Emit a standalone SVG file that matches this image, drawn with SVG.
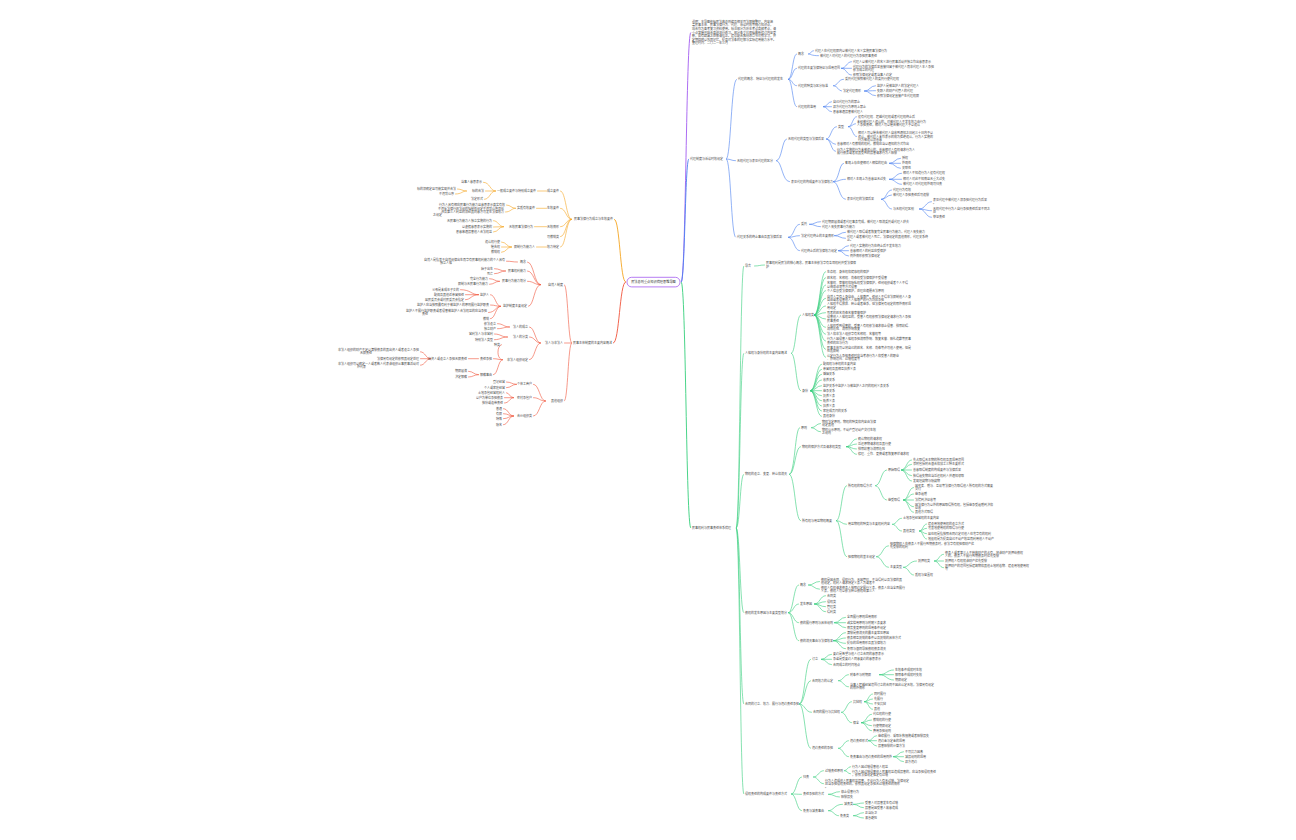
<svg xmlns="http://www.w3.org/2000/svg" width="1296" height="840" viewBox="0 0 1296 840">
<style>
text{font-family:"Noto Sans CJK SC","Noto Sans",sans-serif;font-size:3px;fill:#4a4a4a}
.e{text-anchor:end}
.c{fill:none;stroke-width:0.6;stroke-linecap:round}
.o{stroke:#f5a623}.r{stroke:#f0553c}.b{stroke:#4a80f0}.g{stroke:#35cf7c}.p{stroke:#a35cf0}
.m{stroke-width:0.9}
.root{fill:#fff;stroke:#a35cf0;stroke-width:0.8}
.rt{font-size:3.2px;fill:#333;text-anchor:middle}
</style>
<rect width="1296" height="840" fill="#fff"/>
<g id="connectors">
<path class="c p m" d="M681.5,282 C686,282 686,32.5 690.5,32.5"/>
<path class="c b m" d="M681.5,282 C685,282 685,159 688.5,159"/>
<path class="c g m" d="M681.5,282 C686,282 686,528 690.5,528"/>
<path class="c o m" d="M625.5,282 C620,282 620,219.3 614.5,219.3"/>
<path class="c r m" d="M625.5,282 C619.5,282 619.5,343 613.5,343"/>
<path class="c o" d="M571.5,219.3 C566,219.3 566,191 560.5,191 M571.5,219.3 C566,219.3 566,208.3 560.5,208.3 M571.5,219.3 C566,219.3 566,226.7 560.5,226.7 M571.5,219.3 C566,219.3 566,236.7 560.5,236.7 M571.5,219.3 C566,219.3 566,247 560.5,247
M546.5,191 L537.5,191
M495.5,191 C490,191 490,182.3 483.5,182.3 M495.5,191 L485.5,191 M495.5,191 C490,191 490,199.3 484.5,199.3
M466.5,191 C462,191 462,189 457.5,189 M466.5,191 C462,191 462,194 455.5,194
M546.5,208.3 L536.5,208.3
M515.5,208.3 C511,208.3 511,205 506.5,205 M515.5,208.3 C511,208.3 511,212 505.5,212
M546.5,226.7 L534.5,226.7
M503.5,226.7 C498.5,226.7 498.5,220.7 493.5,220.7 M503.5,226.7 L493.5,227 M503.5,226.7 C498.5,226.7 498.5,232 493.5,232
M546.5,247 L536.5,247
M511.5,247 C506.5,247 506.5,242 501.5,242 M511.5,247 L501.5,247 M511.5,247 C506.5,247 506.5,252.3 501.5,252.3"/>
<path class="c r" d="M571.5,343 C568,343 568,284.7 564.5,284.7 M571.5,343 L564.5,343 M571.5,343 C568,343 568,401 564.5,401
M540.5,284.7 C534,284.7 534,262 527.5,262 M540.5,284.7 C534,284.7 534,271 527.5,271 M540.5,284.7 C534,284.7 534,281.3 527.5,281.3 M540.5,284.7 C534,284.7 534,306.3 528.5,306.3
M517.5,262 C512,262 512,261.2 506.5,261.2
M505.5,271 C500,271 500,268.7 494.5,268.7 M505.5,271 C500,271 500,273.7 494.5,273.7
M499.5,281.3 C494.5,281.3 494.5,278.7 489.5,278.7 M499.5,281.3 C494.5,281.3 494.5,284.3 489.5,284.3
M500.5,306.3 C495.5,306.3 495.5,294.7 490.5,294.7 M500.5,306.3 C495.5,306.3 495.5,305 490.5,305 M500.5,306.3 C495.5,306.3 495.5,312.5 488.5,312.5 M500.5,306.3 C495.5,306.3 495.5,318.7 490.5,318.7
M478.5,294.7 C471,294.7 471,289.7 460.5,289.7 M478.5,294.7 L465.5,294.7 M478.5,294.7 C471,294.7 471,299.7 465.5,299.7
M540.5,343 C535,343 535,327 529.5,327 M540.5,343 C535,343 535,337 529.5,337 M540.5,343 C535,343 535,359.7 529.5,359.7
M509.5,327 C503.5,327 503.5,323.7 497.5,323.7 M509.5,327 C503.5,327 503.5,328.7 497.5,328.7
M507.5,337 C501,337 501,334 494.5,334 M507.5,337 C501,337 501,339.7 494.5,339.7
M502.5,359.7 C496,359.7 497,344.7 501.5,344.7 M502.5,359.7 C498,359.7 498,358.7 493.5,358.7 M502.5,359.7 C498,359.7 498,374.7 493.5,374.7
M478.5,358.7 L468.5,358.7
M430.5,358.7 C425.5,358.7 425.5,351.8 420.5,351.8 M430.5,358.7 L420.5,358.7 M430.5,358.7 C425.5,358.7 425.5,365.2 420.5,365.2
M478.5,374.7 C473.5,374.7 473.5,371.3 468.5,371.3 M478.5,374.7 C473.5,374.7 473.5,377 468.5,377
M545.5,401 C539.5,401 539.5,384.3 533.5,384.3 M545.5,401 C539.5,401 539.5,397.7 533.5,397.7 M545.5,401 C539.5,401 539.5,416 533.5,416
M516.5,384.3 C511.5,384.3 511.5,382 506.5,382 M516.5,384.3 C511.5,384.3 511.5,387.7 506.5,387.7
M513.5,397.7 C509.5,397.7 509.5,392.7 506.5,392.7 M513.5,397.7 L504.5,397.7 M513.5,397.7 C509.5,397.7 509.5,403 504.5,403
M513.5,416 C508.5,416 508.5,408.7 503.5,408.7 M513.5,416 C508.5,416 508.5,413.7 503.5,413.7 M513.5,416 C508.5,416 508.5,418.7 503.5,418.7 M513.5,416 C508.5,416 508.5,424.7 503.5,424.7"/>
<path class="c b" d="M726.5,159 C731,159 731,79.3 736.5,79.3 M726.5,159 C731,159 731,160.7 735.5,160.7 M726.5,159 C731,159 731,237.3 735.5,237.3
M788.5,79.3 C792.5,79.3 792.5,54 796.5,54 M788.5,79.3 C792.5,79.3 792.5,68.3 796.5,68.3 M788.5,79.3 C792.5,79.3 792.5,85.7 796.5,85.7 M788.5,79.3 C792.5,79.3 792.5,106.7 796.5,106.7
M808.5,54 C811,54 811,50.7 813.5,50.7 M808.5,54 C811,54 811,55.7 818.5,55.7
M841.5,68.3 C846.5,68.3 846.5,61.7 851.5,61.7 M841.5,68.3 L851.5,68.3 M841.5,68.3 C846.5,68.3 846.5,75 851.5,75
M833.5,85.7 C838,85.7 838,79.3 843.5,79.3 M833.5,85.7 C838,85.7 838,91 841.5,91
M864.5,91 C870,91 870,85.7 875.5,85.7 M864.5,91 C870,91 870,90.7 875.5,90.7 M864.5,91 C870,91 870,95.7 875.5,95.7
M823.5,106.7 C827.5,106.7 827.5,101.7 831.5,101.7 M823.5,106.7 L831.5,106.7 M823.5,106.7 C827.5,106.7 827.5,111.7 831.5,111.7
M776.5,160.7 C782,160.7 782,139 786.5,139 M776.5,160.7 C782,160.7 782,181.7 789.5,181.7
M826.5,139 C831,139 831,126.7 836.5,126.7 M826.5,139 C831,139 831,144.3 835.5,144.3 M826.5,139 C831,139 831,151.3 835.5,151.3
M848.5,126.7 C852.5,126.7 852.5,116.7 856.5,116.7 M848.5,126.7 C852.5,126.7 852.5,123.7 855.5,123.7 M848.5,126.7 C852.5,126.7 852.5,136.5 856.5,136.5
M833.5,181.7 C839,181.7 839,163.3 843.5,163.3 M833.5,181.7 C839,181.7 839,179.3 845.5,179.3 M833.5,181.7 C839,181.7 839,199.3 845.5,199.3
M889.5,163.3 C895,163.3 895,158.3 900.5,158.3 M889.5,163.3 L900.5,163.3 M889.5,163.3 C895,163.3 895,168.3 900.5,168.3
M889.5,179.3 C895.5,179.3 895.5,173.3 901.5,173.3 M889.5,179.3 L901.5,179.3 M889.5,179.3 C895.5,179.3 895.5,184.3 901.5,184.3
M881.5,199.3 C886.5,199.3 886.5,190 891.5,190 M881.5,199.3 C886.5,199.3 886.5,195 891.5,195 M881.5,199.3 C886.5,199.3 886.5,209 891.5,209
M919.5,209 C925.5,209 925.5,201.7 931.5,201.7 M919.5,209 C925.5,209 925.5,210.7 931.5,210.7 M919.5,209 C925.5,209 925.5,217.3 931.5,217.3
M788.5,237.3 C794,237.3 794,224.3 799.5,224.3 M788.5,237.3 C794,237.3 794,235.7 799.5,235.7 M788.5,237.3 C794,237.3 794,250.7 799.5,250.7
M809.5,224.3 C815,224.3 815,221.7 820.5,221.7 M809.5,224.3 C815,224.3 815,226.7 820.5,226.7
M834.5,235.7 C840,235.7 840,232.3 845.5,232.3 M834.5,235.7 C840,235.7 840,238.3 845.5,238.3
M838.5,250.7 C843.5,250.7 843.5,245.7 848.5,245.7 M838.5,250.7 L848.5,250.7 M838.5,250.7 C843.5,250.7 843.5,256 848.5,256"/>
<path class="c g" d="M736.5,528 C740,528 740,266 743.5,266 M736.5,528 C740,528 740,353.3 743.5,353.3 M736.5,528 C740,528 740,474.3 743.5,474.3 M736.5,528 C740,528 740,612.7 743.5,612.7 M736.5,528 C740,528 740,704 743.5,704 M736.5,528 C740,528 740,794 743.5,794
M754.5,266 C759.5,266 759.5,265 764.5,265
M791.5,353.3 C796,353.3 796,315 800.5,315 M791.5,353.3 C796,353.3 796,390.7 800.5,390.7
M814.5,315 C820,315 820,271.7 825.5,271.7 M814.5,315 C820,315 820,277.7 825.5,277.7 M814.5,315 C820,315 820,285 825.5,285 M814.5,315 C820,315 820,290.7 825.5,290.7 M814.5,315 C820,315 820,298.3 825.5,298.3 M814.5,315 C820,315 820,306 825.5,306 M814.5,315 C820,315 820,312.7 825.5,312.7 M814.5,315 C820,315 820,319 825.5,319 M814.5,315 C820,315 820,327.3 825.5,327.3 M814.5,315 C820,315 820,334.3 825.5,334.3 M814.5,315 C820,315 820,341 825.5,341 M814.5,315 C820,315 820,349.3 825.5,349.3 M814.5,315 C820,315 820,357.3 825.5,357.3
M810.5,390.7 C816,390.7 816,364.3 821.5,364.3 M810.5,390.7 C816,390.7 816,369.3 821.5,369.3 M810.5,390.7 C816,390.7 816,374.3 821.5,374.3 M810.5,390.7 C816,390.7 816,380 821.5,380 M810.5,390.7 C816,390.7 816,385.7 821.5,385.7 M810.5,390.7 L821.5,390.7 M810.5,390.7 C816,390.7 816,395.7 821.5,395.7 M810.5,390.7 C816,390.7 816,400.7 821.5,400.7 M810.5,390.7 C816,390.7 816,406 821.5,406 M810.5,390.7 C816,390.7 816,411 821.5,411 M810.5,390.7 C816,390.7 816,416.3 821.5,416.3
M789.5,474.3 C795,474.3 795,427.7 799.5,427.7 M789.5,474.3 C795,474.3 795,446.7 800.5,446.7 M789.5,474.3 C795,474.3 795,520.7 800.5,520.7
M811.5,427.7 C816,427.7 816,423.5 820.5,423.5 M811.5,427.7 C816,427.7 816,431.8 820.5,431.8
M846.5,446.7 C851.5,446.7 851.5,439 856.5,439 M846.5,446.7 C851.5,446.7 851.5,444 856.5,444 M846.5,446.7 C851.5,446.7 851.5,449 856.5,449 M846.5,446.7 C851.5,446.7 851.5,454.3 856.5,454.3
M836.5,520.7 C841.5,520.7 841.5,485.7 846.5,485.7 M836.5,520.7 C841.5,520.7 841.5,524.3 846.5,524.3 M836.5,520.7 C841.5,520.7 841.5,556.7 846.5,556.7
M875.5,485.7 C881,485.7 881,470 886.5,470 M875.5,485.7 C881,485.7 881,500 886.5,500
M901.5,470 C906.5,470 906.5,460 911.5,460 M901.5,470 C906.5,470 906.5,464.3 911.5,464.3 M901.5,470 L911.5,470 M901.5,470 C906.5,470 906.5,475.7 911.5,475.7 M901.5,470 C906.5,470 906.5,481 911.5,481
M903.5,500 C908.5,500 908.5,487.5 913.5,487.5 M903.5,500 C908.5,500 908.5,494 913.5,494 M903.5,500 L913.5,500 M903.5,500 C908.5,500 908.5,506.7 913.5,506.7 M903.5,500 C908.5,500 908.5,512.3 913.5,512.3
M892.5,524.3 C897,524.3 897,518.3 901.5,518.3 M892.5,524.3 C897,524.3 897,531 901.5,531
M919.5,531 C923,531 923,524 926.5,524 M919.5,531 C923,531 923,528.3 926.5,528.3 M919.5,531 C923,531 923,533.7 926.5,533.7 M919.5,531 C923,531 923,539 926.5,539
M876.5,556.7 C882.5,556.7 882.5,545.8 888.5,545.8 M876.5,556.7 C882.5,556.7 882.5,567.3 888.5,567.3
M903.5,567.3 C909,567.3 909,561 916.5,561 M903.5,567.3 C909,567.3 909,575 913.5,575
M934.5,561 C939,561 939,554.3 943.5,554.3 M934.5,561 L943.5,561 M934.5,561 C939,561 939,567.7 943.5,567.7
M788.5,612.7 C793.5,612.7 793.5,585 798.5,585 M788.5,612.7 C793.5,612.7 793.5,604 798.5,604 M788.5,612.7 C793.5,612.7 793.5,622.7 798.5,622.7 M788.5,612.7 C793.5,612.7 793.5,640.7 798.5,640.7
M808.5,585 C814,585 814,581.5 819.5,581.5 M808.5,585 C814,585 814,589.2 819.5,589.2
M814.5,604 C820,604 820,595.7 825.5,595.7 M814.5,604 C820,604 820,601.7 825.5,601.7 M814.5,604 C820,604 820,606.7 825.5,606.7 M814.5,604 C820,604 820,611.7 825.5,611.7
M834.5,622.7 C840,622.7 840,617.3 845.5,617.3 M834.5,622.7 L845.5,622.7 M834.5,622.7 C840,622.7 840,627.7 845.5,627.7
M833.5,640.7 C839.5,640.7 839.5,632.7 845.5,632.7 M833.5,640.7 C839.5,640.7 839.5,638 845.5,638 M833.5,640.7 C839.5,640.7 839.5,643.3 845.5,643.3 M833.5,640.7 C839.5,640.7 839.5,648.7 845.5,648.7
M799.5,704 C805,704 805,659.3 810.5,659.3 M799.5,704 C805,704 805,680.7 810.5,680.7 M799.5,704 C805,704 805,712.3 811.5,712.3 M799.5,704 C805,704 805,748.3 810.5,748.3
M821.5,659.3 C826.5,659.3 826.5,654.3 831.5,654.3 M821.5,659.3 L831.5,659.3 M821.5,659.3 C826.5,659.3 826.5,664.7 831.5,664.7
M838.5,680.7 C843.5,680.7 843.5,674.7 848.5,674.7 M838.5,680.7 C843.5,680.7 843.5,686.8 848.5,686.8
M879.5,674.7 C886.5,674.7 886.5,670 893.5,670 M879.5,674.7 L893.5,674.7 M879.5,674.7 C886.5,674.7 886.5,680 893.5,680
M841.5,712.3 C846.5,712.3 846.5,701.7 851.5,701.7 M841.5,712.3 C846.5,712.3 846.5,722.7 851.5,722.7
M864.5,701.7 C868.5,701.7 868.5,694 872.5,694 M864.5,701.7 C868.5,701.7 868.5,699 872.5,699 M864.5,701.7 C868.5,701.7 868.5,704 872.5,704 M864.5,701.7 C868.5,701.7 868.5,709.3 872.5,709.3
M861.5,722.7 C866.5,722.7 866.5,714.3 871.5,714.3 M861.5,722.7 C866.5,722.7 866.5,720 871.5,720 M861.5,722.7 C866.5,722.7 866.5,725.7 871.5,725.7 M861.5,722.7 C866.5,722.7 866.5,730.7 871.5,730.7
M838.5,748.3 C843.5,748.3 843.5,740.7 848.5,740.7 M838.5,748.3 C843.5,748.3 843.5,756.7 848.5,756.7
M868.5,740.7 C872.5,740.7 872.5,735.7 876.5,735.7 M868.5,740.7 L876.5,740.7 M868.5,740.7 C872.5,740.7 872.5,746 876.5,746
M893.5,756.7 C898.5,756.7 898.5,751.7 903.5,751.7 M893.5,756.7 L903.5,756.7 M893.5,756.7 C898.5,756.7 898.5,761.7 903.5,761.7
M791.5,794 C796.5,794 796.5,777 801.5,777 M791.5,794 C796.5,794 796.5,794.3 801.5,794.3 M791.5,794 C796.5,794 796.5,810.7 801.5,810.7
M813.5,777 C818.5,777 818.5,770.7 823.5,770.7 M813.5,777 C818.5,777 818.5,783.7 823.5,783.7
M844.5,770.7 C847.5,770.7 847.5,766.7 850.5,766.7 M844.5,770.7 C847.5,770.7 847.5,773.8 850.5,773.8
M828.5,794.3 C834,794.3 834,791.7 839.5,791.7 M828.5,794.3 C834,794.3 834,797 839.5,797
M828.5,810.7 C834,810.7 834,804.3 842.5,804.3 M828.5,810.7 C834,810.7 834,815.7 838.5,815.7
M853.5,804.3 C858.5,804.3 858.5,803 863.5,803 M853.5,804.3 C858.5,804.3 858.5,807.7 863.5,807.7
M853.5,815.7 C858.5,815.7 858.5,812.7 863.5,812.7 M853.5,815.7 C858.5,815.7 858.5,818 863.5,818"/>
</g>
<g id="root"><rect class="root" x="627" y="277.3" width="53" height="9.6" rx="4.6"/><text class="rt" x="653.5" y="283.3">民法总则重点知识梳理思维导图</text></g>
<g id="note"><text x="692" y="22.7">说明：本导图依据民法典总则编及相关司法解释整理，内容涵</text><text x="692" y="26.3">盖民事主体、民事法律行为、代理、诉讼时效等核心知识点，</text><text x="692" y="29.9">适合作为备考复习资料使用。标注部分为历年考试高频考点，请</text><text x="692" y="33.5">重点掌握并结合真题进行练习。部分条文已根据最新修订内容更</text><text x="692" y="37.1">新，如有疏漏之处敬请指正。建议配合教材逐章节对照学习，并</text><text x="692" y="40.7">定期回顾以巩固记忆，提高对法条的理解与实际运用能力水平。</text><text x="692" y="44.3">整理时间：二〇二一年三月</text></g>
<g id="O0"><text class="e" x="613" y="220.3">民事法律行为成立与生效要件</text></g>
<g id="O1"><text class="e" x="559" y="192">成立要件</text></g>
<g id="O2"><text class="e" x="559" y="209.3">生效要件</text></g>
<g id="O3"><text class="e" x="559" y="227.7">无效情形</text></g>
<g id="O4"><text class="e" x="559" y="237.7">可撤销类</text></g>
<g id="O5"><text class="e" x="559" y="248">效力待定</text></g>
<g id="O1a"><text class="e" x="536" y="192">一般成立要件与特别成立要件</text></g>
<g id="O1a1"><text class="e" x="482" y="183.3">当事人意思表示</text></g>
<g id="O1a2"><text class="e" x="484" y="192">标的合法</text></g>
<g id="O1a3"><text class="e" x="483" y="200.3">法定形式</text></g>
<g id="O1a2a"><text class="e" x="456" y="190">标的须确定且可能实现并合法</text></g>
<g id="O1a2b"><text class="e" x="454" y="195">不违背公序</text></g>
<g id="O2a"><text class="e" x="535" y="209.3">实质有效要件</text></g>
<g id="O2a1"><text class="e" x="505" y="206">行为人具有相应民事行为能力且意思表示真实有效</text></g>
<g id="O2a2"><text class="e"><tspan x="504" y="209.8">不违反法律行政法规的强制性规定不违背公序良俗</tspan><tspan x="504" y="213">涉及第三人利益的须经其同意方可发生法律效力</tspan><tspan x="442" y="216.2">之规定</tspan></text></g>
<g id="O3a"><text class="e" x="533" y="227.7">无效民事法律行为</text></g>
<g id="O3a1"><text class="e" x="492" y="221.7">无民事行为能力人独立实施的行为</text></g>
<g id="O3a2"><text class="e" x="492" y="228">以虚假意思表示实施的</text></g>
<g id="O3a3"><text class="e" x="492" y="233">恶意串通损害他人合法权益</text></g>
<g id="O5a"><text class="e" x="535" y="248">限制行为能力人</text></g>
<g id="O5a1"><text class="e" x="500" y="243">追认权行使</text></g>
<g id="O5a2"><text class="e" x="500" y="248">催告权</text></g>
<g id="O5a3"><text class="e" x="500" y="253.3">撤销权</text></g>
<g id="R0"><text class="e" x="612" y="344">民事主体制度的主要内容概述</text></g>
<g id="RA"><text class="e" x="563" y="285.7">自然人制度</text></g>
<g id="RB"><text class="e" x="563" y="344">法人与非法人</text></g>
<g id="RC"><text class="e" x="563" y="402">其他组织</text></g>
<g id="RA1"><text class="e" x="526" y="263">概念</text></g>
<g id="RA1a"><text class="e"><tspan x="505" y="260.6">自然人是指基于自然规律出生而享有民事权利能力的个人具有</tspan><tspan x="452" y="263.8">独立人格</tspan></text></g>
<g id="RA2"><text class="e" x="526" y="272">民事权利能力</text></g>
<g id="RA2a"><text class="e" x="493" y="269.7">始于出生</text></g>
<g id="RA2b"><text class="e" x="493" y="274.7">死亡</text></g>
<g id="RA3"><text class="e" x="526" y="282.3">民事行为能力划分</text></g>
<g id="RA3a"><text class="e" x="488" y="279.7">完全行为能力</text></g>
<g id="RA3b"><text class="e" x="488" y="285.3">限制与无民事行为能力</text></g>
<g id="RA4"><text class="e" x="527" y="307.3">监护制度主要规定</text></g>
<g id="RA4a"><text class="e" x="489" y="295.7">监护人</text></g>
<g id="RA4a1"><text class="e" x="459" y="290.7">父母是未成年子女的</text></g>
<g id="RA4a2"><text class="e" x="464" y="295.7">配偶及其他近亲属担任</text></g>
<g id="RA4a3"><text class="e" x="464" y="300.7">居民委员会或村民委员会指定</text></g>
<g id="RA4b"><text class="e" x="489" y="306">监护人应当按照最有利于被监护人的原则履行监护职责</text></g>
<g id="RA4c"><text class="e"><tspan x="487" y="311.9">监护人不履行监护职责或者侵害被监护人合法权益的应当承担</tspan><tspan x="428" y="315.1">责任</tspan></text></g>
<g id="RA4d"><text class="e" x="489" y="319.7">撤销</text></g>
<g id="RB1"><text class="e" x="528" y="328">法人的成立</text></g>
<g id="RB1a"><text class="e" x="496" y="324.7">依法设立</text></g>
<g id="RB1b"><text class="e" x="496" y="329.7">独立财产</text></g>
<g id="RB2"><text class="e" x="528" y="338">法人的分类</text></g>
<g id="RB2a"><text class="e" x="493" y="335">营利法人与非营利</text></g>
<g id="RB2b"><text class="e" x="493" y="340.7">特别法人类型</text></g>
<g id="RB3"><text class="e" x="528" y="360.7">非法人组织规定</text></g>
<g id="RB3a"><text class="e" x="500" y="345.7">种类</text></g>
<g id="RB3b"><text class="e" x="492" y="359.7">责任承担</text></g>
<g id="RB3b1"><text class="e" x="467" y="359.7">出资人或设立人承担无限责任</text></g>
<g id="RB3b1a"><text class="e"><tspan x="419" y="351.2">非法人组织的财产不足以清偿债务的其出资人或者设立人承担</tspan><tspan x="372" y="354.4">无限责任</tspan></text></g>
<g id="RB3b1b"><text class="e" x="419" y="359.7">法律另有规定的依照其规定处理</text></g>
<g id="RB3b1c"><text class="e"><tspan x="419" y="364.6">非法人组织可以确定一人或者数人代表该组织从事民事活动对</tspan><tspan x="366" y="367.8">外代表</tspan></text></g>
<g id="RB3c"><text class="e" x="492" y="375.7">解散事由</text></g>
<g id="RB3c1"><text class="e" x="467" y="372.3">期限届满</text></g>
<g id="RB3c2"><text class="e" x="467" y="378">决定解散</text></g>
<g id="RC1"><text class="e" x="532" y="385.3">个体工商户</text></g>
<g id="RC1a"><text class="e" x="505" y="383">登记经营</text></g>
<g id="RC1b"><text class="e" x="505" y="388.7">个人或家庭经营</text></g>
<g id="RC2"><text class="e" x="532" y="398.7">农村承包户</text></g>
<g id="RC2a"><text class="e" x="505" y="393.7">土地承包经营权利人</text></g>
<g id="RC2b"><text class="e" x="503" y="398.7">以户为单位承担债务</text></g>
<g id="RC2c"><text class="e" x="503" y="404">按份或连带责任</text></g>
<g id="RC3"><text class="e" x="532" y="417">合伙组织类</text></g>
<g id="RC3a"><text class="e" x="502" y="409.7">普通</text></g>
<g id="RC3b"><text class="e" x="502" y="414.7">有限</text></g>
<g id="RC3c"><text class="e" x="502" y="419.7">特殊</text></g>
<g id="RC3d"><text class="e" x="502" y="425.7">隐名</text></g>
<g id="B0"><text x="690" y="160">代理制度与诉讼时效规定</text></g>
<g id="B1"><text x="738" y="80.3">代理的概念、特征与代理权的发生</text></g>
<g id="B2"><text x="737" y="161.7">无权代理与表见代理的区分</text></g>
<g id="B3"><text x="737" y="238.3">代理关系的终止事由及其法律后果</text></g>
<g id="B1a"><text x="798" y="55">概念</text></g>
<g id="B1a1"><text x="815" y="51.7">代理人在代理权限内以被代理人名义实施民事法律行为</text></g>
<g id="B1a2"><text x="820" y="56.7">被代理人对代理人的代理行为承担民事责任</text></g>
<g id="B1b"><text x="798" y="69.3">代理的主要法律特征与适用范围</text></g>
<g id="B1b1"><text x="853" y="62.7">代理人以被代理人的名义进行民事活动并独立作出意思表示</text></g>
<g id="B1b2"><text><tspan x="853" y="67.7">代理行为的法律后果直接归属于被代理人而非代理人本人承担</tspan><tspan x="853" y="70.9">依法成立的代理</tspan></text></g>
<g id="B1b3"><text x="853" y="76">依照法律规定或者当事人约定</text></g>
<g id="B1c"><text x="798" y="86.7">代理的种类与区分标准</text></g>
<g id="B1c1"><text x="845" y="80.3">委托代理按照被代理人的委托行使代理权</text></g>
<g id="B1c2"><text x="843" y="92">法定代理情形</text></g>
<g id="B1c2a"><text x="877" y="86.7">监护人是被监护人的法定代理人</text></g>
<g id="B1c2b"><text x="877" y="91.7">失踪人的财产代管人的代理</text></g>
<g id="B1c2c"><text x="877" y="96.7">依照法律规定直接产生代理权限</text></g>
<g id="B1d"><text x="798" y="107.7">代理权的滥用</text></g>
<g id="B1d1"><text x="833" y="102.7">自己代理行为的禁止</text></g>
<g id="B1d2"><text x="833" y="107.7">双方代理行为原则上禁止</text></g>
<g id="B1d3"><text x="833" y="112.7">恶意串通损害被代理人</text></g>
<g id="B2a"><text x="788" y="140">无权代理的类型与法律后果</text></g>
<g id="B2a1"><text x="838" y="127.7">类型</text></g>
<g id="B2a1a"><text x="858" y="117.7">没有代理权、超越代理权或者代理权终止后</text></g>
<g id="B2a1b"><text><tspan x="857" y="123.1">未经被代理人追认的，对被代理人不发生效力由行为</tspan><tspan x="857" y="126.3">人承担责任，相对人可以催告被代理人予以追认</tspan></text></g>
<g id="B2a1c"><text><tspan x="858" y="134.3">相对人可以催告被代理人自收到通知之日起三十日内予以</tspan><tspan x="858" y="137.5">追认，被代理人未作表示的视为拒绝追认，行为人实施的</tspan><tspan x="858" y="140.7">行为被追认前善意</tspan></text></g>
<g id="B2a2"><text x="837" y="145.3">善意相对人有撤销的权利，撤销应当以通知的方式作出</text></g>
<g id="B2a3"><text><tspan x="837" y="150.7">行为人实施的行为未被追认的，善意相对人有权请求行为人</tspan><tspan x="837" y="153.9">履行债务或者就其受到的损害请求行为人赔偿</tspan></text></g>
<g id="B2b"><text x="791" y="182.7">表见代理的构成要件与法律效力</text></g>
<g id="B2b1"><text x="845" y="164.3">客观上存在使相对人相信的理由</text></g>
<g id="B2b1a"><text x="902" y="159.3">授权</text></g>
<g id="B2b1b"><text x="902" y="164.3">外观性</text></g>
<g id="B2b1c"><text x="902" y="169.3">关联性</text></g>
<g id="B2b2"><text x="847" y="180.3">相对人主观上为善意且无过失</text></g>
<g id="B2b2a"><text x="903" y="174.3">相对人不知道行为人没有代理权</text></g>
<g id="B2b2b"><text x="903" y="180.3">相对人对此不知情且无重大过失</text></g>
<g id="B2b2c"><text x="903" y="185.3">被代理人对代理权外观可归责</text></g>
<g id="B2b3"><text x="847" y="200.3">表见代理的法律后果</text></g>
<g id="B2b3a"><text x="893" y="191">代理行为有效</text></g>
<g id="B2b3b"><text x="893" y="196">被代理人承担责任后可追偿</text></g>
<g id="B2b3c"><text x="893" y="210">与无权代理区别</text></g>
<g id="B2b3c1"><text><tspan x="933" y="201.1">表见代理中被代理人须承担代理行为后果</tspan><tspan x="933" y="204.3">。</tspan></text></g>
<g id="B2b3c2"><text><tspan x="933" y="210.1">无权代理中行为人自行承担责任后果不同之</tspan><tspan x="933" y="213.3">处</tspan></text></g>
<g id="B2b3c3"><text x="933" y="218.3">举证责任</text></g>
<g id="B3a"><text x="801" y="225.3">委托</text></g>
<g id="B3a1"><text x="822" y="222.7">代理期限届满或者代理事务完成，被代理人取消委托或代理人辞去</text></g>
<g id="B3a2"><text x="822" y="227.7">代理人丧失民事行为能力</text></g>
<g id="B3b"><text x="801" y="236.7">法定代理终止的主要情形</text></g>
<g id="B3b1"><text x="847" y="233.3">被代理人取得或者恢复完全民事行为能力，代理人丧失能力</text></g>
<g id="B3b2"><text><tspan x="847" y="237.7">代理人或者被代理人死亡，法律规定的其他情形，代理关系终</tspan><tspan x="847" y="240.9">止。</tspan></text></g>
<g id="B3c"><text x="801" y="251.7">代理终止后的法律效力规定</text></g>
<g id="B3c1"><text x="850" y="246.7">代理人实施的行为在终止后不发生效力</text></g>
<g id="B3c2"><text x="850" y="251.7">善意相对人的利益应受保护</text></g>
<g id="B3c3"><text x="850" y="257">例外情形依照法律规定</text></g>
<g id="G0"><text x="692" y="529">民事权利与民事责任体系梳理</text></g>
<g id="G1"><text x="745" y="267">导言</text></g>
<g id="G1a"><text><tspan x="766" y="264.4">民事权利是民法的核心概念，民事主体依法享有各项权利并受法律保</tspan><tspan x="766" y="267.6">护</tspan></text></g>
<g id="G2"><text x="745" y="354.3">人格权与身份权的主要内容概述</text></g>
<g id="G2a"><text x="802" y="316">人格权类</text></g>
<g id="G2a01"><text x="827" y="272.7">生命权、身体权和健康权的保护</text></g>
<g id="G2a02"><text x="827" y="278.7">姓名权、名称权、肖像权受法律保护不受侵害</text></g>
<g id="G2a03"><text><tspan x="827" y="284.4">名誉权、荣誉权和隐私权受法律保护，任何组织或者个人不得</tspan><tspan x="827" y="287.6">以侮辱诽谤等方式侵害</tspan></text></g>
<g id="G2a04"><text x="827" y="291.7">个人信息受法律保护，处理应遵循合法原则</text></g>
<g id="G2a05"><text><tspan x="827" y="297.7">自然人享有人身自由、人格尊严，任何人不得非法限制他人人身</tspan><tspan x="827" y="300.9">自由或者侵害他人人格尊严的行为均应承担</tspan></text></g>
<g id="G2a06"><text><tspan x="827" y="305.4">人格权不得放弃、转让或者继承，但法律另有规定的除外情形适</tspan><tspan x="827" y="308.6">用规定</tspan></text></g>
<g id="G2a07"><text x="827" y="313.7">死者的姓名肖像名誉荣誉保护</text></g>
<g id="G2a08"><text><tspan x="827" y="318.4">侵害他人人格权益的，受害人有权依照法律规定请求行为人承担</tspan><tspan x="827" y="321.6">民事责任</tspan></text></g>
<g id="G2a09"><text><tspan x="827" y="326.7">人格权受到侵害的，受害人有权依法请求停止侵害、排除妨碍、</tspan><tspan x="827" y="329.9">消除危险、消除影响恢复</tspan></text></g>
<g id="G2a10"><text x="827" y="335.3">法人和非法人组织享有名称权、名誉权等</text></g>
<g id="G2a11"><text><tspan x="827" y="340.4">行为人因侵害人格权承担消除影响、恢复名誉、赔礼道歉等民事</tspan><tspan x="827" y="343.6">责任的应与行为</tspan></text></g>
<g id="G2a12"><text><tspan x="827" y="348.7">民事主体可以将自己的姓名、名称、肖像等许可他人使用，但是</tspan><tspan x="827" y="351.9">性质限制</tspan></text></g>
<g id="G2a13"><text><tspan x="827" y="356.7">认定行为人承担责任时应当考虑行为人和受害人的职业</tspan><tspan x="827" y="359.9">、影响范围、过错程度等</tspan></text></g>
<g id="G2b"><text x="802" y="391.7">身份</text></g>
<g id="G2b01"><text x="823" y="365.3">配偶权与亲权的主要内容</text></g>
<g id="G2b02"><text x="823" y="370.3">亲属权及其相互扶养义务</text></g>
<g id="G2b03"><text x="823" y="375.3">婚姻关系</text></g>
<g id="G2b04"><text x="823" y="381">收养关系</text></g>
<g id="G2b05"><text x="823" y="386.7">监护关系中监护人与被监护人之间的权利义务关系</text></g>
<g id="G2b06"><text x="823" y="391.7">继承关系</text></g>
<g id="G2b07"><text x="823" y="396.7">抚养义务</text></g>
<g id="G2b08"><text x="823" y="401.7">赡养义务</text></g>
<g id="G2b09"><text x="823" y="407">扶养义务</text></g>
<g id="G2b10"><text x="823" y="412">家庭成员间的关系</text></g>
<g id="G2b11"><text x="823" y="417.3">其他身份</text></g>
<g id="G3"><text x="745" y="475.3">物权的设立、变更、转让和消灭</text></g>
<g id="G3a"><text x="801" y="428.7">原则</text></g>
<g id="G3a1"><text><tspan x="822" y="422.9">物权法定原则，物权的种类和内容由法律</tspan><tspan x="822" y="426.1">规定其他</tspan></text></g>
<g id="G3a2"><text><tspan x="822" y="431.2">物权公示原则，不动产登记动产交付生效</tspan><tspan x="822" y="434.4">之规则</tspan></text></g>
<g id="G3b"><text x="802" y="447.7">物权的保护方式及请求权类型</text></g>
<g id="G3b1"><text x="858" y="440">确认物权的请求权</text></g>
<g id="G3b2"><text x="858" y="445">返还原物请求权及其行使</text></g>
<g id="G3b3"><text x="858" y="450">排除妨害与消除危险</text></g>
<g id="G3b4"><text x="858" y="455.3">修理、重作、更换或者恢复原状请求权</text></g>
<g id="G3c"><text x="802" y="521.7">所有权与用益物权概要</text></g>
<g id="G3c1"><text x="848" y="486.7">所有权的取得方式</text></g>
<g id="G3c1a"><text x="888" y="471">原始取得</text></g>
<g id="G3c1a1"><text x="913" y="461">先占取得无主物的所有权及其适用范围</text></g>
<g id="G3c1a2"><text x="913" y="465.3">添附包括附合混合和加工三种主要形式</text></g>
<g id="G3c1a3"><text x="913" y="471">善意取得制度的构成要件与法律后果</text></g>
<g id="G3c1a4"><text x="913" y="476.7">拾得遗失物应当返还权利人并通知领取</text></g>
<g id="G3c1a5"><text x="913" y="482">发现埋藏物与隐藏物</text></g>
<g id="G3c1b"><text x="888" y="501">继受取得</text></g>
<g id="G3c1b1"><text><tspan x="915" y="486.9">因买卖、赠与、互易等法律行为取得他人所有权的方式需要</tspan><tspan x="915" y="490.1">交付</tspan></text></g>
<g id="G3c1b2"><text x="915" y="495">继承遗赠</text></g>
<g id="G3c1b3"><text x="915" y="501">法院判决征收等</text></g>
<g id="G3c1b4"><text><tspan x="915" y="506.1">因法律行为以外的原因取得所有权，包括继承受遗赠判决和</tspan><tspan x="915" y="509.3">征收</tspan></text></g>
<g id="G3c1b5"><text x="915" y="513.3">其他方式取得</text></g>
<g id="G3c2"><text x="848" y="525.3">用益物权的种类与主要权利内容</text></g>
<g id="G3c2a"><text x="903" y="519.3">土地承包经营权的主要内容</text></g>
<g id="G3c2b"><text x="903" y="532">其他类型</text></g>
<g id="G3c2b1"><text x="928" y="525">建设用地使用权的设立方式</text></g>
<g id="G3c2b2"><text x="928" y="529.3">宅基地使用权的取得与行使</text></g>
<g id="G3c2b3"><text x="928" y="534.7">居住权是指按照合同约定对他人住宅享有的权利</text></g>
<g id="G3c2b4"><text x="928" y="540">地役权是为提高自己不动产效益而利用他人不动产</text></g>
<g id="G3c3"><text x="848" y="557.7">担保物权的基本规定</text></g>
<g id="G3c3a"><text><tspan x="890" y="545.2">担保物权人在债务人不履行到期债务时，依法享有就担保财产优</tspan><tspan x="890" y="548.4">先受偿的权利</tspan></text></g>
<g id="G3c3b"><text x="890" y="568.3">主要类型</text></g>
<g id="G3c3b1"><text x="918" y="562">抵押权类</text></g>
<g id="G3c3b1a"><text><tspan x="945" y="553.7">债务人或者第三人不转移财产的占有，将该财产抵押给债权</tspan><tspan x="945" y="556.9">人的，债务人不履行到期债务时优先受偿</tspan></text></g>
<g id="G3c3b1b"><text x="945" y="562">抵押权人有权就该财产优先受偿</text></g>
<g id="G3c3b1c"><text><tspan x="945" y="567.1">抵押财产的范围包括建筑物和其他土地附着物、建设用地使用权</tspan><tspan x="945" y="570.3">等</tspan></text></g>
<g id="G3c3b2"><text x="915" y="576">质权与留置权</text></g>
<g id="G4"><text x="745" y="613.7">债权的发生原因与主要类型划分</text></g>
<g id="G4a"><text x="800" y="586">概念</text></g>
<g id="G4a1"><text><tspan x="821" y="580.9">债权是因合同、侵权行为、无因管理、不当得利以及法律的其</tspan><tspan x="821" y="584.1">他规定，权利人请求特定义务人为或者不</tspan></text></g>
<g id="G4a2"><text><tspan x="821" y="588.6">债权人有权请求债务人按照约定履行义务，债务人应当全面履行</tspan><tspan x="821" y="591.8">义务，债权人可以依法转让债权给第三人</tspan></text></g>
<g id="G4b"><text x="800" y="605">发生原因</text></g>
<g id="G4b1"><text x="827" y="596.7">合同类</text></g>
<g id="G4b2"><text x="827" y="602.7">侵权类</text></g>
<g id="G4b3"><text x="827" y="607.7">管理类</text></g>
<g id="G4b4"><text x="827" y="612.7">得利类</text></g>
<g id="G4c"><text x="800" y="623.7">债的履行原则与具体规则</text></g>
<g id="G4c1"><text x="847" y="618.3">全面履行原则适用情形</text></g>
<g id="G4c2"><text x="847" y="623.7">诚实信用原则与附随义务要求</text></g>
<g id="G4c3"><text x="847" y="628.7">情势变更原则的适用条件规定</text></g>
<g id="G4d"><text x="800" y="641.7">债的消灭事由与法律效果</text></g>
<g id="G4d1"><text x="847" y="633.7">清偿是债消灭的最主要常见原因</text></g>
<g id="G4d2"><text x="847" y="639">债务相互抵销的条件以及抵销的具体方式</text></g>
<g id="G4d3"><text x="847" y="644.3">提存的适用情形及其法律效力</text></g>
<g id="G4d4"><text x="847" y="649.7">免除与混同导致债权债务消灭</text></g>
<g id="G5"><text x="745" y="705">合同的订立、效力、履行与违约责任承担</text></g>
<g id="G5a"><text x="812" y="660.3">订立</text></g>
<g id="G5a1"><text x="833" y="655.3">要约是希望与他人订立合同的意思表示</text></g>
<g id="G5a2"><text x="833" y="660.3">承诺是受要约人同意要约的意思表示</text></g>
<g id="G5a3"><text x="833" y="665.7">合同成立的时间地点</text></g>
<g id="G5b"><text x="812" y="681.7">合同效力的认定</text></g>
<g id="G5b1"><text x="850" y="675.7">附条件与附期限</text></g>
<g id="G5b1a"><text x="895" y="671">生效条件成就时生效</text></g>
<g id="G5b1b"><text x="895" y="675.7">解除条件成就时失效</text></g>
<g id="G5b1c"><text x="895" y="681">期限规定</text></g>
<g id="G5b2"><text><tspan x="850" y="686.2">当事人超越经营范围订立的合同不因此认定无效，法律另有规定</tspan><tspan x="850" y="689.4">的除外情形</tspan></text></g>
<g id="G5c"><text x="813" y="713.3">合同的履行与抗辩权</text></g>
<g id="G5c1"><text x="853" y="702.7">抗辩权</text></g>
<g id="G5c1a"><text x="874" y="695">同时履行</text></g>
<g id="G5c1b"><text x="874" y="700">先履行</text></g>
<g id="G5c1c"><text x="874" y="705">不安抗辩</text></g>
<g id="G5c1d"><text x="874" y="710.3">其他</text></g>
<g id="G5c2"><text x="853" y="723.7">保全</text></g>
<g id="G5c2a"><text x="873" y="715.3">代位权的行使</text></g>
<g id="G5c2b"><text x="873" y="721">撤销权的行使</text></g>
<g id="G5c2c"><text x="873" y="726.7">行使期限规定</text></g>
<g id="G5c2d"><text x="873" y="731.7">费用承担规则</text></g>
<g id="G5d"><text x="812" y="749.3">违约责任的承担</text></g>
<g id="G5d1"><text x="850" y="741.7">违约责任形式</text></g>
<g id="G5d1a"><text x="878" y="736.7">继续履行、采取补救措施或者赔偿损失</text></g>
<g id="G5d1b"><text x="878" y="741.7">违约金与定金的适用</text></g>
<g id="G5d1c"><text x="878" y="747">损害赔偿的计算方法</text></g>
<g id="G5d2"><text x="850" y="757.7">免责事由与违约责任的适用例外</text></g>
<g id="G5d2a"><text x="905" y="752.7">不可抗力因素</text></g>
<g id="G5d2b"><text x="905" y="757.7">减损规则的适用</text></g>
<g id="G5d2c"><text x="905" y="762.7">双方违约</text></g>
<g id="G6"><text x="745" y="795">侵权责任的构成要件与责任方式</text></g>
<g id="G6a"><text x="803" y="778">归责</text></g>
<g id="G6a1"><text x="825" y="771.7">过错责任原则</text></g>
<g id="G6a1a"><text x="852" y="767.7">行为人因过错侵害他人权益</text></g>
<g id="G6a1b"><text><tspan x="852" y="773.2">行为人因过错侵害他人民事权益造成损害的，应当承担侵权责任</tspan><tspan x="852" y="776.4">，依照法律规定推定有过错</tspan></text></g>
<g id="G6a2"><text><tspan x="825" y="781.5">行为人造成他人民事权益损害，不论行为人有无过错，法律规定</tspan><tspan x="825" y="784.7">应当承担侵权责任的，依照其规定承担无过错责任的情形</tspan><tspan x="825" y="787.9">。</tspan></text></g>
<g id="G6b"><text x="803" y="795.3">责任承担的方式</text></g>
<g id="G6b1"><text x="841" y="792.7">停止侵害行为</text></g>
<g id="G6b2"><text x="841" y="798">赔偿损失</text></g>
<g id="G6c"><text x="803" y="811.7">免责与减责事由</text></g>
<g id="G6c1"><text x="844" y="805.3">减责类</text></g>
<g id="G6c1a"><text x="865" y="804">受害人对损害发生有过错</text></g>
<g id="G6c1b"><text x="865" y="808.7">损害是因受害人故意造成</text></g>
<g id="G6c2"><text x="840" y="816.7">免责类</text></g>
<g id="G6c2a"><text x="865" y="813.7">正当防卫</text></g>
<g id="G6c2b"><text x="865" y="819">紧急避险</text></g>
</svg>
